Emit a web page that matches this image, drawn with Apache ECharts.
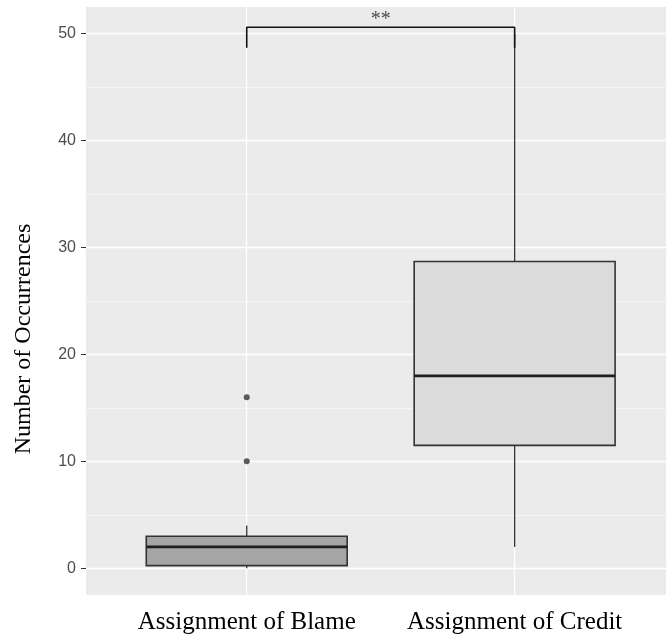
<!DOCTYPE html>
<html>
<head>
<meta charset="utf-8">
<script src="https://cdn.jsdelivr.net/npm/echarts@6/dist/echarts.min.js"></script>
<style>
  html, body { margin: 0; padding: 0; background: #ffffff; }
  #chart { width: 666px; height: 644px; }
</style>
</head>
<body>
<div id="chart"></div>
<script>
// Groups on the horizontal axis (placed at positions 1 and 2)
const categories = ['Assignment of Blame', 'Assignment of Credit'];
// Five-number summaries: [lower whisker, Q1, median, Q3, upper whisker]
const blameSummary = [0, 0.25, 2, 3, 4];
const creditSummary = [2, 11.5, 18, 28.7, 50];
// Points beyond the whiskers
const blameOutliers = [10, 16];
const creditOutliers = [];
// Y axis breaks
const yTicks = [0, 10, 20, 30, 40, 50];
const yMinorBreaks = [5, 15, 25, 35, 45];
// Significance bracket between the two groups
const bracketLow = 48.7;
const bracketHigh = 50.6;
const sigLabel = '**';

const boxFills = ['#a5a5a5', '#dbdbdb'];
const positions = categories.map((_, i) => i + 1);
const summaries = [blameSummary, creditSummary];
const outliers = [blameOutliers, creditOutliers];

const chart = echarts.init(document.getElementById('chart'), null, { renderer: 'canvas' });

const BOX_HALF = 0.375;
const EDGE = '#333333';

function renderBox(params, api) {
  const x = api.value(0);
  const lo = api.value(1), q1 = api.value(2), med = api.value(3), q3 = api.value(4), hi = api.value(5);
  const pLo = api.coord([x, lo]);
  const pQ1 = api.coord([x, q1]);
  const pQ3 = api.coord([x, q3]);
  const pHi = api.coord([x, hi]);
  const tl = api.coord([x - BOX_HALF, q3]);
  const br = api.coord([x + BOX_HALF, q1]);
  const mL = api.coord([x - BOX_HALF, med]);
  const mR = api.coord([x + BOX_HALF, med]);
  const fill = api.visual('color');
  return {
    type: 'group',
    children: [
      { type: 'line', shape: { x1: pHi[0], y1: pHi[1], x2: pQ3[0], y2: pQ3[1] },
        style: { stroke: EDGE, lineWidth: 1.3 } },
      { type: 'line', shape: { x1: pQ1[0], y1: pQ1[1], x2: pLo[0], y2: pLo[1] },
        style: { stroke: EDGE, lineWidth: 1.3 } },
      { type: 'rect', shape: { x: tl[0], y: tl[1], width: br[0] - tl[0], height: br[1] - tl[1] },
        style: { fill: fill, stroke: EDGE, lineWidth: 1.6 } },
      { type: 'line', shape: { x1: mL[0], y1: mL[1], x2: mR[0], y2: mR[1] },
        style: { stroke: '#1e1e1e', lineWidth: 2.6 } }
    ]
  };
}

const option = {
  animation: false,
  backgroundColor: '#ffffff',
  grid: {
    left: 86, top: 7, right: 0, bottom: 49,
    show: true, backgroundColor: '#ebebeb', borderWidth: 0
  },
  xAxis: {
    // the panel runs past the right edge of the canvas
    type: 'value', min: 0.4, max: 2.565,
    axisLine: { show: false },
    splitLine: { show: false },
    axisTick: { show: true, customValues: positions, length: 5, lineStyle: { color: '#333333', width: 1 } },
    axisLabel: {
      customValues: positions,
      formatter: v => categories[Math.round(v) - 1],
      fontFamily: 'Liberation Serif', fontSize: 25, color: '#000000', margin: 15
    }
  },
  yAxis: {
    type: 'value', min: -2.5, max: 52.5,
    axisLine: { show: false },
    splitLine: { show: false },
    axisTick: { show: true, customValues: yTicks, length: 5, lineStyle: { color: '#333333', width: 1 } },
    axisLabel: {
      customValues: yTicks,
      fontFamily: 'Liberation Sans', fontSize: 16, color: '#4d4d4d', margin: 10
    }
  },
  graphic: [{
    type: 'text', x: 24, y: 339, rotation: Math.PI / 2,
    style: {
      text: 'Number of Occurrences', font: '24px "Liberation Serif"',
      fill: '#000000', align: 'center', verticalAlign: 'middle'
    }
  }],
  series: [
    {
      // panel grid lines
      type: 'line', data: [], zlevel: 0, z: 0, silent: true,
      markLine: {
        silent: true, symbol: 'none', animation: false,
        label: { show: false },
        data: [
          ...yMinorBreaks.map(v => ({ yAxis: v, lineStyle: { color: '#f7f7f7', width: 0.8, type: 'solid' } })),
          ...yTicks.map(v => ({ yAxis: v, lineStyle: { color: '#ffffff', width: 1.3, type: 'solid' } })),
          ...positions.map(v => ({ xAxis: v, lineStyle: { color: '#ffffff', width: 1.3, type: 'solid' } }))
        ]
      }
    },
    {
      type: 'custom', zlevel: 1, z: 3, silent: true,
      renderItem: renderBox,
      encode: { x: 0, y: [1, 2, 3, 4, 5] },
      data: summaries.map((s, i) => ({ value: [positions[i], ...s], itemStyle: { color: boxFills[i] } }))
    },
    {
      type: 'scatter', zlevel: 1, z: 4, silent: true,
      symbol: 'circle', symbolSize: 6,
      itemStyle: { color: '#333333' },
      data: outliers.flatMap((vals, i) => vals.map(v => [positions[i], v]))
    },
    {
      type: 'line', zlevel: 1, z: 5, silent: true,
      showSymbol: false, symbol: 'none',
      lineStyle: { color: '#111111', width: 1.6 },
      data: [[positions[0], bracketLow], [positions[0], bracketHigh], [positions[1], bracketHigh], [positions[1], bracketLow]]
    },
    {
      type: 'scatter', zlevel: 1, z: 5, silent: true,
      symbolSize: 0,
      label: {
        show: true, position: 'top', distance: -2,
        formatter: sigLabel,
        fontFamily: 'Liberation Serif', fontSize: 20, color: '#222222'
      },
      data: [[(positions[0] + positions[1]) / 2, bracketHigh]]
    }
  ]
};

chart.setOption(option);
</script>
</body>
</html>
